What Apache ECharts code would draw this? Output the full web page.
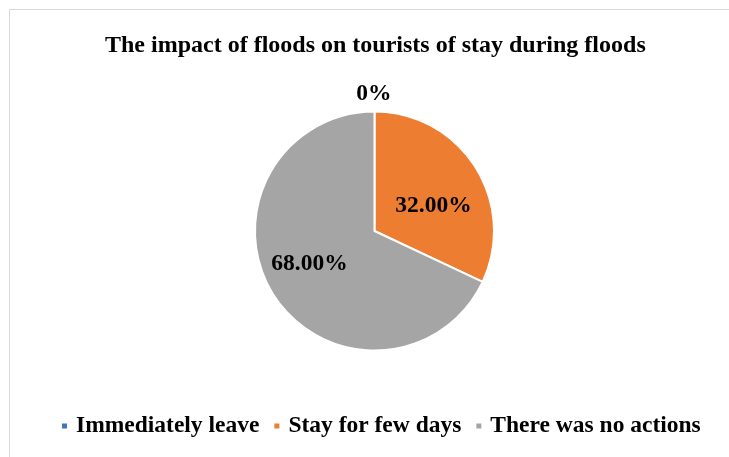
<!DOCTYPE html>
<html>
<head>
<meta charset="utf-8">
<script src="https://cdn.jsdelivr.net/npm/echarts@6/dist/echarts.min.js"></script>
<style>
html,body{margin:0;padding:0;background:#fff;}
#chart{width:729px;height:457px;}
</style>
</head>
<body>
<div id="chart"></div>
<script>
var titleText = "The impact of floods on tourists of stay during floods";
var categories = ["Immediately leave", "Stay for few days", "There was no actions"];
var values = [0, 32, 68];
var colors = ["#4472C4", "#ED7D31", "#A5A5A5"];

var serif = "'Liberation Serif', 'Times New Roman', serif";
var chart = echarts.init(document.getElementById('chart'), null, {renderer: 'canvas'});

var labelOffsets = [[22, -14], [6, 9], [-12, -1]];
var data = categories.map(function (c, i) {
  var item = {name: c, value: values[i], itemStyle: {color: colors[i]}};
  if (values[i] === 0) {
    item.label = {position: 'outside', offset: labelOffsets[i]};
    item.labelLine = {show: false, length: 4, length2: 0};
  } else {
    item.label = {position: 'inside', offset: labelOffsets[i]};
  }
  return item;
});

chart.setOption({
  animation: false,
  backgroundColor: '#fff',
  graphic: [{
    type: 'rect', left: 7, top: 7,
    shape: {x: 0, y: 0, width: 740, height: 470},
    style: {fill: 'none', stroke: '#D9D9D9', lineWidth: 1}
  }],
  title: {
    text: titleText, left: 100, top: 29,
    textStyle: {fontFamily: serif, fontWeight: 'bold', fontSize: 24, color: '#000'}
  },
  legend: {
    data: categories, left: 55, top: 409, icon: 'rect', itemWidth: 7, itemHeight: 7, itemGap: 13,
    textStyle: {fontFamily: serif, fontWeight: 'bold', fontSize: 23.5, color: '#000', padding: [0, 0, 0, 3]}
  },
  series: [{
    type: 'pie', center: [374.5, 231], radius: [0, 119.5], startAngle: 90, clockwise: true,
    avoidLabelOverlap: false,
    itemStyle: {borderColor: '#fff', borderWidth: 2},
    label: {
      show: true, fontFamily: serif, fontWeight: 'bold', fontSize: 23.5, color: '#000',
      formatter: function (p) { return p.value === 0 ? '0%' : p.value.toFixed(2) + '%'; }
    },
    labelLine: {show: false},
    data: data
  }]
});
</script>
</body>
</html>
